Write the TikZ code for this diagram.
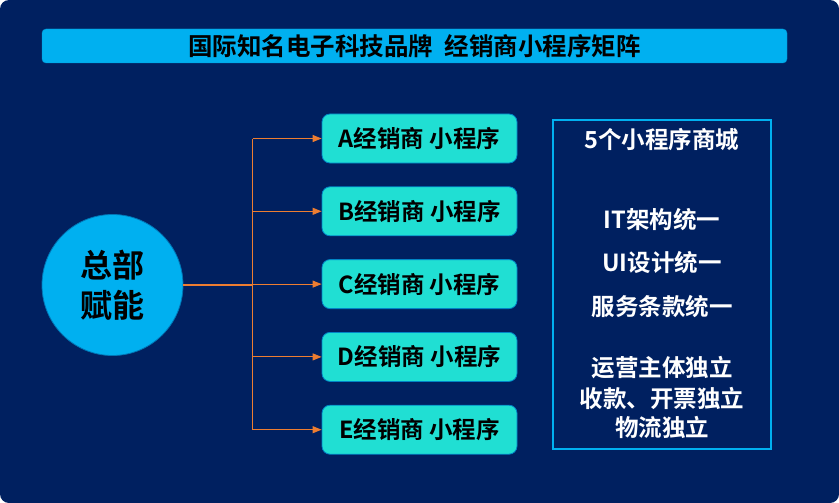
\documentclass[tikz,border=0pt]{standalone}
\usepackage{fontspec}
\setmainfont{Noto Sans CJK SC}[BoldFont={Noto Sans CJK SC Bold}]
\usetikzlibrary{positioning,arrows.meta}
\definecolor{navy}{HTML}{002060}
\definecolor{skyblue}{HTML}{00B0F0}
\definecolor{teal}{HTML}{20DFD3}
\definecolor{linkorange}{HTML}{ED7D31}
\begin{document}
\begin{tikzpicture}[x=1pt, y=-1pt,
    every node/.style={font=\bfseries},
    shop/.style={draw=skyblue!70!navy, line width=0.8pt, rounded corners=8pt, fill=teal,
      minimum width=195pt, minimum height=49pt, font=\fontsize{23.5}{26}\selectfont\bfseries},
    branch/.style={draw=linkorange, line width=0.9pt, -{Triangle[length=9pt, width=7pt]}},
    trunk/.style={draw=linkorange, line width=2pt},
    note/.style={text=white, font=\fontsize{23.5}{26}\selectfont\bfseries}]
    \useasboundingbox (0,0) rectangle (839,503);
    \fill[navy, rounded corners=9pt] (0,0) rectangle (839,503);

    % title bar
    \node[fill=skyblue, draw=skyblue!80!navy, rounded corners=4pt, minimum width=745pt, minimum height=34pt,
      font=\fontsize{24.5}{26}\selectfont\bfseries] (title) at (414.5,46) {国际知名电子科技品牌\ \ 经销商小程序矩阵};

    % headquarters
    \node[circle, fill=skyblue, draw=skyblue!60!navy, line width=0.8pt, minimum size=141pt, align=center,
      font=\fontsize{32}{40}\selectfont\bfseries] (hq) at (112.5,285) {总部\\赋能};

    % dealer mini programs
    \node[shop] (a) at (419.5,138.5) {A经销商 小程序};
    \node[shop, below=23pt of a] (b) {B经销商 小程序};
    \node[shop, below=23pt of b] (c) {C经销商 小程序};
    \node[shop, below=23pt of c] (d) {D经销商 小程序};
    \node[shop, below=23pt of d] (e) {E经销商 小程序};

    \coordinate (hub) at (252.5,285);
    \draw[trunk] (hq.east) -- (hub);
    \draw[draw=linkorange, line width=0.9pt] (hub |- a.west) -- (hub |- e.west);
    \draw[branch] (hub |- a.west) -- (a.west);
    \draw[branch] (hub |- b.west) -- (b.west);
    \draw[branch] (hub |- c.west) -- (c.west);
    \draw[branch] (hub |- d.west) -- (d.west);
    \draw[branch] (hub |- e.west) -- (e.west);

    % summary panel
    \node[draw=skyblue, line width=1.2pt, minimum width=218pt, minimum height=329pt] (panel) at (662,284.5) {};
    \node[note] (mall) at (662,140) {5个小程序商城};
    \node[note] (it) at (662,220) {IT架构统一};
    \node[note] (ui) at (662,263) {UI设计统一};
    \node[note] (terms) at (662,307) {服务条款统一};
    \node[note] (ops) at (662,368) {运营主体独立};
    \node[note] (pay) at (662,398) {收款、开票独立};
    \node[note] (ship) at (662,427) {物流独立};
\end{tikzpicture}
\end{document}
